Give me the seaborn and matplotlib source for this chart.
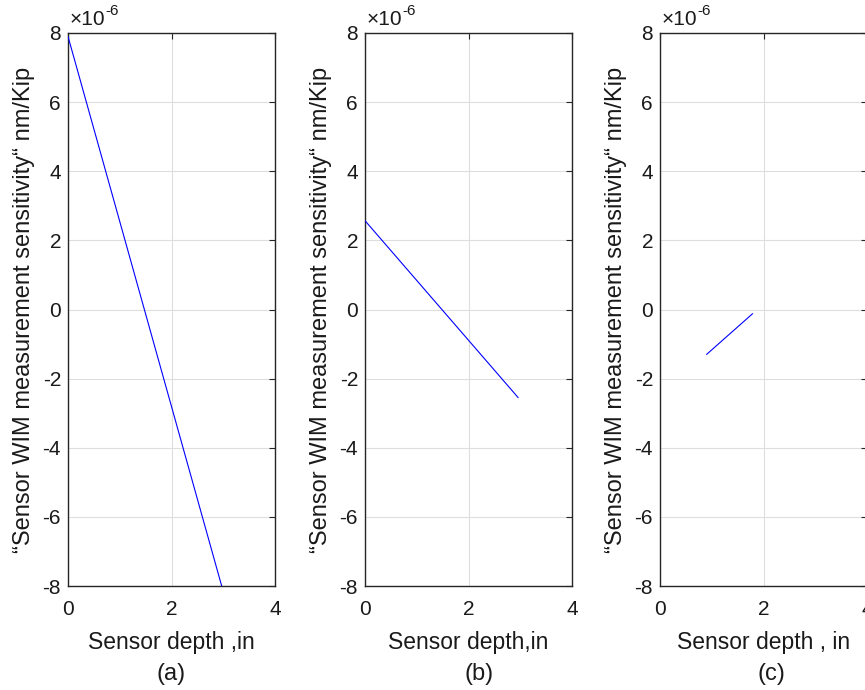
import matplotlib
matplotlib.use("Agg")
import matplotlib.pyplot as plt
import matplotlib.ticker as mticker
import seaborn as sns
import pandas as pd

# ---- data ----
depth_a = [0.0, 2.97]
sens_a = [7.9e-6, -8.0e-6]
depth_b = [0.0, 2.96]
sens_b = [2.57e-6, -2.55e-6]
depth_c = [0.90, 1.79]
sens_c = [-1.30e-6, -0.12e-6]

x_ticks = [0, 2, 4]
y_ticks = [-8e-6, -6e-6, -4e-6, -2e-6, 0, 2e-6, 4e-6, 6e-6, 8e-6]
x_labels = ["Sensor depth ,in", "Sensor depth,in", "Sensor depth , in"]
panel_labels = ["(a)", "(b)", "(c)"]
panel_label_x = [0.50, 0.553, 0.54]
y_label = "\u201cSensor WIM measurement sensitivity\u201c nm/Kip"

sns.set_theme(style="white")
plt.rcParams["font.family"] = ["Liberation Sans", "DejaVu Sans"]
plt.rcParams["axes.unicode_minus"] = False

W, H = 865, 690
fig = plt.figure(figsize=(W / 100, H / 100), dpi=100)
fig.patch.set_facecolor("white")

lefts = [68, 365, 660]
ax_w = 207
top_px, bot_px = 33, 586

datasets = [(depth_a, sens_a), (depth_b, sens_b), (depth_c, sens_c)]
spine_col = "#262626"
txt_col = "#1a1a1a"

for i, (xs, ys) in enumerate(datasets):
    ax = fig.add_axes([lefts[i] / W, 1 - bot_px / H, ax_w / W, (bot_px - top_px) / H])
    df = pd.DataFrame({"depth": xs, "sens": ys})
    sns.lineplot(data=df, x="depth", y="sens", ax=ax, color=(0, 0, 1), linewidth=0.8, zorder=3)
    ax.set_xlim(0, 4)
    ax.set_ylim(-8e-6, 8e-6)
    ax.set_xticks(x_ticks)
    ax.set_yticks(y_ticks)
    ax.yaxis.set_major_formatter(mticker.FuncFormatter(lambda v, p: f"{v / 1e-6:.0f}"))
    ax.grid(True, color="#dedede", linewidth=0.8, zorder=0)
    ax.set_axisbelow(True)
    for s in ax.spines.values():
        s.set_color(spine_col)
        s.set_linewidth(1.0)
    ax.tick_params(direction="in", length=4.5, width=0.8, colors=spine_col,
                   labelsize=15, labelcolor=txt_col, top=True, right=True)
    ax.tick_params(axis="x", pad=10)
    ax.tick_params(axis="y", pad=5)
    ax.set_xlabel(x_labels[i], fontsize=16.5, color=txt_col, va="top")
    ax.xaxis.set_label_coords(0.5, -0.081)
    ax.set_ylabel(y_label, fontsize=17, color=txt_col)
    ax.yaxis.set_label_coords(-0.16, 0.5)
    ax.text(panel_label_x[i], -0.16, panel_labels[i], transform=ax.transAxes,
            ha="center", va="center", fontsize=17, color=txt_col)
    # exponent marker
    t1 = ax.annotate("\u00d710", xy=(0, 1), xycoords="axes fraction", xytext=(1, 3),
                     textcoords="offset points", ha="left", va="bottom",
                     fontsize=15, color=txt_col)
    fig.canvas.draw()
    bb = t1.get_window_extent()
    x_end = (bb.x1 - ax.get_window_extent().x0) * 72 / fig.dpi
    ax.annotate("-6", xy=(0, 1), xycoords="axes fraction", xytext=(x_end, 11),
                textcoords="offset points", ha="left", va="bottom",
                fontsize=11, color=txt_col)

fig.savefig("out.png", dpi=100, facecolor="white")
